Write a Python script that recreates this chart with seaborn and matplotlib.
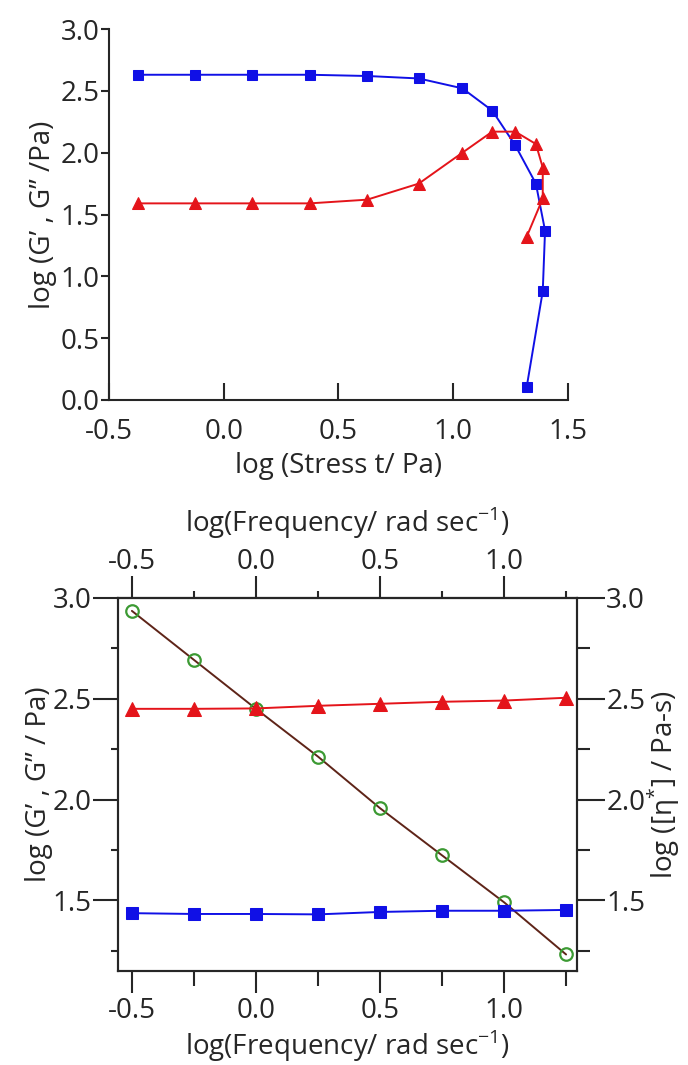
import numpy as np
import pandas as pd
import matplotlib
matplotlib.use('Agg')
import matplotlib.pyplot as plt
from matplotlib.ticker import MultipleLocator
import seaborn as sns

# stress sweep (top panel)
stress_gp = [-0.375, -0.125, 0.125, 0.375, 0.625, 0.85, 1.04, 1.17, 1.27, 1.36, 1.40, 1.39, 1.32]
gp_stress = [2.63, 2.63, 2.63, 2.63, 2.62, 2.60, 2.52, 2.34, 2.06, 1.75, 1.37, 0.88, 0.105]
stress_gpp = [-0.375, -0.125, 0.125, 0.375, 0.625, 0.85, 1.04, 1.17, 1.27, 1.36, 1.39, 1.39, 1.32]
gpp_stress = [1.59, 1.59, 1.59, 1.59, 1.62, 1.75, 2.00, 2.17, 2.17, 2.07, 1.88, 1.63, 1.32]

# frequency sweep (bottom panel)
freq = [-0.5, -0.25, 0.0, 0.25, 0.5, 0.75, 1.0, 1.25]
gp_freq = [1.436, 1.432, 1.432, 1.43, 1.442, 1.448, 1.448, 1.452]
gpp_freq = [2.45, 2.45, 2.452, 2.465, 2.475, 2.485, 2.491, 2.505]
eta_freq = [2.936, 2.693, 2.45, 2.213, 1.957, 1.723, 1.49, 1.231]

BLUE = '#1010e6'
RED = '#e4141a'
BROWN = '#5e2418'
GREEN = '#3c9a33'

sns.set_style('ticks')
plt.rcParams['font.family'] = ['Open Sans', 'DejaVu Sans']
plt.rcParams['axes.linewidth'] = 1.5
plt.rcParams['mathtext.fontset'] = 'custom'
plt.rcParams['mathtext.rm'] = 'Open Sans'
fs = 20

fig = plt.figure(figsize=(6.88, 10.65), dpi=100)

# ---- top panel ----
ax1 = fig.add_axes([109 / 688, 1 - 400 / 1065, (568 - 109) / 688, 371 / 1065])
sns.lineplot(x=stress_gp, y=gp_stress, sort=False, estimator=None, ax=ax1,
             color=BLUE, lw=1.4, marker='s', markersize=7.5, markeredgecolor=BLUE, clip_on=False)
sns.lineplot(x=stress_gpp, y=gpp_stress, sort=False, estimator=None, ax=ax1,
             color=RED, lw=1.4, marker='^', markersize=9, markeredgecolor=RED, clip_on=False)
ax1.set_xlim(-0.5, 1.5)
ax1.set_ylim(0, 3.0)
ax1.set_yticks([0, 0.5, 1.0, 1.5, 2.0, 2.5, 3.0])
ax1.set_yticklabels(['0.0', '0.5', '1.0', '1.5', '2.0', '2.5', '3.0'])
ax1.set_xticks([-0.5, 0.0, 0.5, 1.0, 1.5])
ax1.set_xticklabels(['-0.5', '0.0', '0.5', '1.0', '1.5'])
ax1.tick_params(axis='x', direction='in', length=12, width=1.5, labelsize=fs, pad=13)
ax1.tick_params(axis='y', direction='out', length=6, width=1.5, labelsize=fs, pad=1)
sns.despine(ax=ax1)
ax1.set_xlabel('log (Stress t/ Pa)', fontsize=fs, labelpad=4)
ax1.set_ylabel('log (G’ , G” /Pa)', fontsize=fs, labelpad=2)

# ---- bottom panel ----
ax2 = fig.add_axes([118 / 688, 1 - 971 / 1065, (577 - 118) / 688, 373 / 1065])
ax3 = ax2.twinx()
sns.lineplot(x=freq, y=eta_freq, estimator=None, ax=ax3, color=BROWN, lw=1.4)
ax3.plot(freq, eta_freq, ls='none', marker='o', markersize=9, markerfacecolor='none',
         markeredgecolor=GREEN, markeredgewidth=1.6, clip_on=False)
sns.lineplot(x=freq, y=gpp_freq, estimator=None, ax=ax2, color=RED, lw=1.4,
             marker='^', markersize=10.5, markeredgecolor=RED, clip_on=False)
sns.lineplot(x=freq, y=gp_freq, estimator=None, ax=ax2, color=BLUE, lw=1.4,
             marker='s', markersize=9, markeredgecolor=BLUE, clip_on=False)
ax2.set_zorder(ax3.get_zorder() + 1)
ax2.patch.set_visible(False)

for a in (ax2, ax3):
    a.set_xlim(-0.556, 1.294)
    a.set_ylim(1.149, 3.0)
    a.set_yticks([1.5, 2.0, 2.5, 3.0])
    a.set_yticklabels(['1.5', '2.0', '2.5', '3.0'])
    a.yaxis.set_minor_locator(MultipleLocator(0.25))
ax2.set_xticks([-0.5, 0.0, 0.5, 1.0])
ax2.set_xticklabels(['-0.5', '0.0', '0.5', '1.0'])
ax2.xaxis.set_minor_locator(MultipleLocator(0.25))
ax2.tick_params(axis='x', which='major', direction='out', length=16, width=1.5, labelsize=fs, pad=3)
ax2.tick_params(axis='x', which='minor', direction='out', length=11, width=1.5)
ax2.tick_params(axis='y', which='major', direction='out', length=18, width=1.5, labelsize=fs, pad=1)
ax2.tick_params(axis='y', which='minor', direction='out', length=5, width=1.5)
ax3.tick_params(axis='y', which='major', direction='out', length=20, width=1.5, labelsize=fs, pad=1)
ax3.tick_params(axis='y', which='minor', direction='out', length=9, width=1.5)

secx = ax2.secondary_xaxis('top')
secx.set_xticks([-0.5, 0.0, 0.5, 1.0])
secx.set_xticklabels(['-0.5', '0.0', '0.5', '1.0'])
secx.xaxis.set_minor_locator(MultipleLocator(0.25))
secx.tick_params(which='major', direction='out', length=16, width=1.5, labelsize=fs, pad=0)
secx.tick_params(which='minor', direction='out', length=5, width=1.5)
secx.set_xlabel('log(Frequency/ rad sec$^{\\mathregular{-1}}$)', fontsize=fs, labelpad=11)

ax2.set_xlabel('log(Frequency/ rad sec$^{\\mathregular{-1}}$)', fontsize=fs, labelpad=2)
ax2.set_ylabel('log (G’ , G” / Pa)', fontsize=fs, labelpad=0)
ax3.set_ylabel('log ([η$^{\\mathregular{*}}$] / Pa-s)', fontsize=fs, labelpad=0)

fig.savefig('out.png', dpi=100)
